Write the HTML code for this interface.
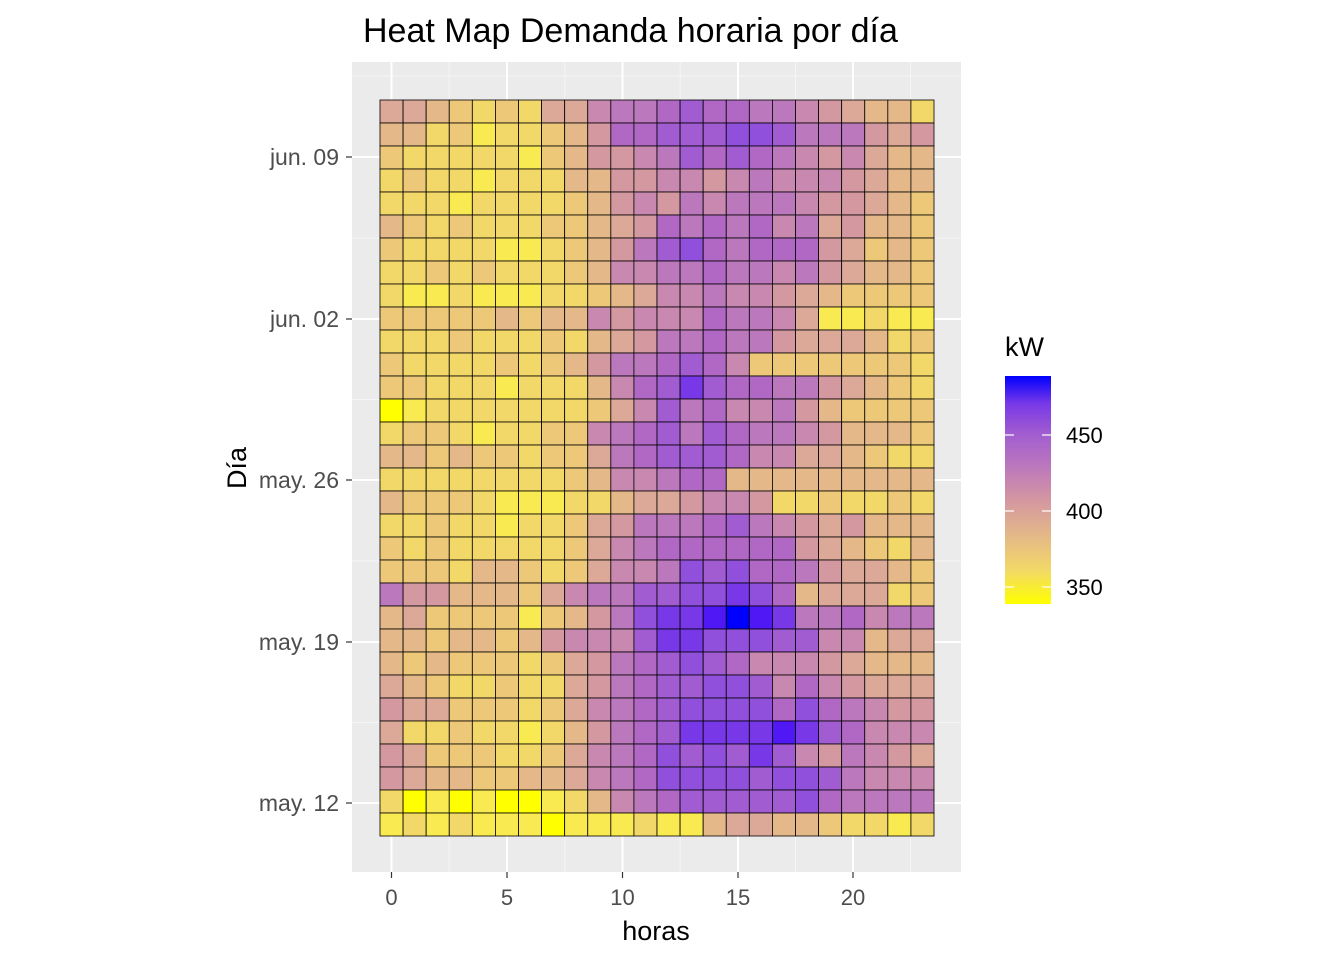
<!DOCTYPE html>
<html><head><meta charset="utf-8"><style>body{margin:0;background:#fff}svg{display:block;font-family:"Liberation Sans",Arial,sans-serif}</style></head>
<body>
<svg id="s" width="1344" height="960" xmlns="http://www.w3.org/2000/svg">
<defs><linearGradient id="lg" x1="0" y1="1" x2="0" y2="0">
<stop offset="0" stop-color="#FFFF00"/><stop offset="0.15" stop-color="#F2D868"/><stop offset="0.3" stop-color="#E4B888"/><stop offset="0.45" stop-color="#D498A0"/><stop offset="0.6" stop-color="#BC78BC"/><stop offset="0.75" stop-color="#A05CD0"/><stop offset="0.88" stop-color="#7838E8"/><stop offset="1" stop-color="#0000FF"/></linearGradient></defs>
<rect x="352" y="62" width="609" height="810" fill="#EBEBEB"/>
<g id="grid"></g>
<g id="cells" stroke="#000" stroke-width="0.8"></g>
<text x="363" y="42" font-size="34" fill="#000">Heat Map Demanda horaria por día</text>
<g font-size="23" fill="#4D4D4D" text-anchor="end">
<text x="339" y="165">jun. 09</text><text x="339" y="327">jun. 02</text><text x="339" y="488">may. 26</text><text x="339" y="650">may. 19</text><text x="339" y="811">may. 12</text>
</g>
<g stroke="#333" stroke-width="1.2">
<line x1="346" x2="352" y1="157" y2="157"/><line x1="346" x2="352" y1="319" y2="319"/><line x1="346" x2="352" y1="480" y2="480"/><line x1="346" x2="352" y1="642" y2="642"/><line x1="346" x2="352" y1="803" y2="803"/>
<line y1="872" y2="878" x1="391.5" x2="391.5"/><line y1="872" y2="878" x1="507" x2="507"/><line y1="872" y2="878" x1="622.5" x2="622.5"/><line y1="872" y2="878" x1="738" x2="738"/><line y1="872" y2="878" x1="853" x2="853"/>
</g>
<g font-size="22" fill="#4D4D4D" text-anchor="middle">
<text x="391.5" y="905">0</text><text x="507" y="905">5</text><text x="622.5" y="905">10</text><text x="738" y="905">15</text><text x="853" y="905">20</text>
</g>
<text x="656" y="940" font-size="27" text-anchor="middle">horas</text>
<text transform="translate(246,468) rotate(-90)" font-size="27" text-anchor="middle">Día</text>
<text x="1005" y="356" font-size="27">kW</text>
<rect x="1005" y="376" width="46" height="228" fill="url(#lg)"/>
<g stroke="#fff" stroke-width="1.2">
<line x1="1005" x2="1014" y1="435" y2="435"/><line x1="1042" x2="1051" y1="435" y2="435"/>
<line x1="1005" x2="1014" y1="511" y2="511"/><line x1="1042" x2="1051" y1="511" y2="511"/>
<line x1="1005" x2="1014" y1="587" y2="587"/><line x1="1042" x2="1051" y1="587" y2="587"/>
</g>
<g font-size="22" fill="#000"><text x="1066" y="443">450</text><text x="1066" y="519">400</text><text x="1066" y="595">350</text></g>
</svg>
<script>
var P={Y:"#FFFF00",y:"#F8EA50",a:"#F2D868",b:"#ECC878",c:"#E4B888",d:"#DCA898",e:"#D498A0",f:"#C888B0",g:"#BC78BC",h:"#B068C4",i:"#A05CD0",j:"#9050DC",k:"#7838E8",l:"#5018F4",B:"#0000FF"};
var R=[
"ddcbabaddfgghihhggfedcca","ccabyaabcehhiiijjigggede","baaaaaybceefgihihgfefdcc","abaayaaacceeffefgfffedcc",
"aaayaaaabcefegfgggfeedcb","cbabaaabbcdehghghfgdeccb","baaaayyabcegijhghhhedbcb","aababaaabcffgghggfgedccb",
"ayyayyyaabcdffgffedcbbbb","bbbbbcbccfefffhggfdyyayy","aaabaaabacdegghggedddcab","baaaababcegghihfbbbbbbba",
"bbaaayaaacfhikihhggedcba","Yyaaaaaaabdfighffgecbbbb","abbayaabbfghigihggfecccb","ccbcbbabbdghiiihffddcbaa",
"aaaaaaaabcffghhccccccccc","cbbbayyyaacddeffeaabaaba","aabaayaabdeggghigfedeccc","babaaaaabdfghhhhhhedcbac",
"bbbaccbabdffgjijhhgeddcb","geecccbdfggiijjkjhcdddab","cdbbbbybcegjkklBlkgghfgg","ccbccbcefffikkjjjiiffcdd",
"cbcbbbabdeghijihfffedccc","dcbaabaadeghiijjifhfeddd","eddbbbabdfghijjjjhjhgfee","daabaayaceghikkkklkihfff",
"edbbbaabdfghjijikifegfed","edccbbccdfghjjjjijjigfff","aYyYyYYyacfghiiiiijhgggg","yayayyyYyyyayycddccbaaya"];
var g=document.getElementById("cells"),s="";
var w=554/24;
for(var r=0;r<32;r++){for(var c=0;c<24;c++){var ch=R[r][c]||"c";s+='<rect x="'+(380+c*w).toFixed(2)+'" y="'+(100+r*23)+'" width="'+w.toFixed(2)+'" height="23" fill="'+(P[ch]||"#E4B888")+'"/>';}}
g.innerHTML=s;
var gr="",xs=[391.5,507,622.5,738,853],ys=[157,319,480,642,803];
[449.25,564.75,680.25,795.5,910.5].forEach(function(x){gr+='<line x1="'+x+'" x2="'+x+'" y1="62" y2="872" stroke="#F5F5F5" stroke-width="1"/>';});
[76,238,399.5,561,722.5].forEach(function(y){gr+='<line y1="'+y+'" y2="'+y+'" x1="352" x2="961" stroke="#F5F5F5" stroke-width="1"/>';});
xs.forEach(function(x){gr+='<line x1="'+x+'" x2="'+x+'" y1="62" y2="872" stroke="#fff" stroke-width="2"/>';});
ys.forEach(function(y){gr+='<line y1="'+y+'" y2="'+y+'" x1="352" x2="961" stroke="#fff" stroke-width="2"/>';});
document.getElementById("grid").innerHTML=gr;
</script>
</body></html>
